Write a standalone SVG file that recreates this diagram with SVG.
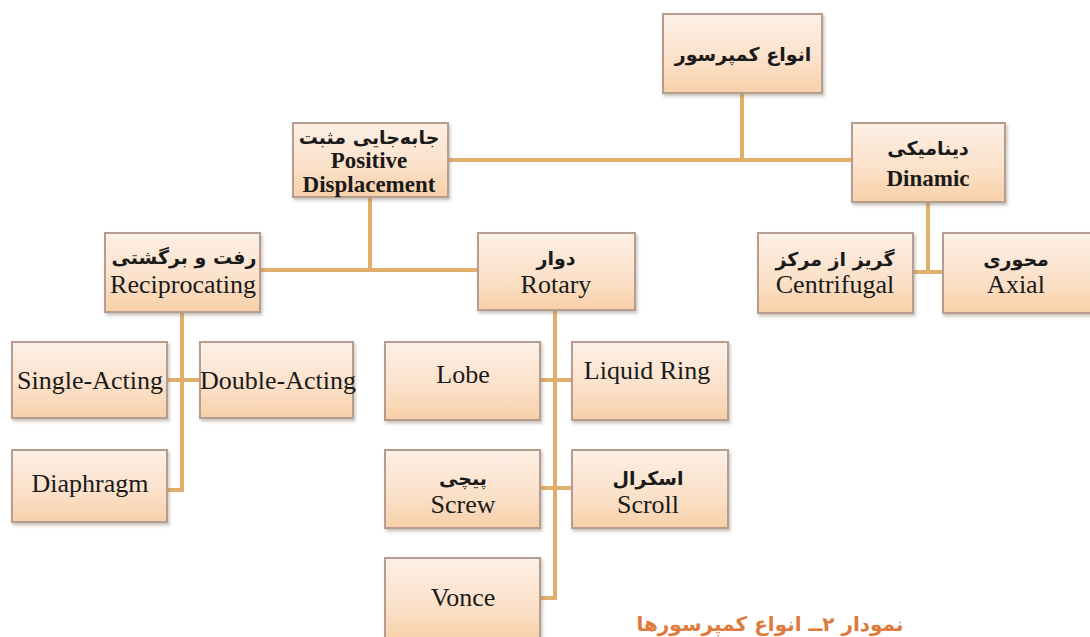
<svg xmlns="http://www.w3.org/2000/svg" width="1090" height="637" viewBox="0 0 1090 637">
<defs>
<linearGradient id="bg" x1="0" y1="0" x2="0" y2="1">
<stop offset="0" stop-color="#FDF0E6"/>
<stop offset="0.6" stop-color="#FBE0C8"/>
<stop offset="1" stop-color="#F8D0A8"/>
</linearGradient>
<filter id="sh" x="-10%" y="-10%" width="125%" height="130%">
<feDropShadow dx="1.5" dy="2.5" stdDeviation="1.5" flood-color="#8a7a70" flood-opacity="0.45"/>
</filter>
<style>
.box{fill:url(#bg);stroke:#B59E90;stroke-width:2;filter:url(#sh)}
.fa{font-family:"DejaVu Sans","Noto Sans",sans-serif;font-weight:bold;font-size:19px;fill:#1a1a1a;text-anchor:middle;direction:rtl}
.en{font-family:"Liberation Serif",serif;font-size:26px;fill:#1a1a1a;text-anchor:middle}
.enb{font-family:"Liberation Serif",serif;font-weight:bold;font-size:23px;fill:#1a1a1a;text-anchor:middle}
.ln{stroke:#E2AE6C;stroke-width:4;fill:none}
.cap{font-family:"DejaVu Sans","Noto Sans",sans-serif;font-weight:bold;font-size:20px;fill:#E07A3C;text-anchor:middle;direction:rtl}
</style>
</defs>
<rect width="1090" height="637" fill="#ffffff"/>
<g id="connectors">
<path class="ln" d="M742 93V160M448 160H852"/>
<path class="ln" d="M370 197V270M260 270H478"/>
<path class="ln" d="M928 202V272M913 272H943"/>
<path class="ln" d="M182 312V490H167M167 380H200"/>
<path class="ln" d="M555 310V598H540M540 380H572M540 488H572"/>
</g>
<g id="n-root"><rect class="box" x="663" y="14" width="159" height="79"/><text class="fa" x="743" y="61" font-size="21">انواع کمپرسور</text></g>
<g id="n-pd"><rect class="box" x="293" y="123" width="155" height="74"/><text class="fa" x="369" y="144">جابه&#x200C;جایی مثبت</text><text class="enb" x="369" y="168">Positive</text><text class="enb" x="369" y="192">Displacement</text></g>
<g id="n-dyn"><rect class="box" x="852" y="123" width="153" height="79"/><text class="fa" x="928" y="155">دینامیکی</text><text class="enb" x="928" y="186">Dinamic</text></g>
<g id="n-recip"><rect class="box" x="105" y="233" width="155" height="79"/><text class="fa" x="184" y="264">رفت و برگشتی</text><text class="en" x="183" y="293">Reciprocating</text></g>
<g id="n-rot"><rect class="box" x="478" y="233" width="157" height="77"/><text class="fa" x="556" y="265">دوار</text><text class="en" x="556" y="293">Rotary</text></g>
<g id="n-cent"><rect class="box" x="758" y="233" width="155" height="80"/><text class="fa" x="835" y="266">گریز از مرکز</text><text class="en" x="835" y="293">Centrifugal</text></g>
<g id="n-axial"><rect class="box" x="943" y="233" width="150" height="80"/><text class="fa" x="1016" y="266">محوری</text><text class="en" x="1016" y="293">Axial</text></g>
<g id="n-single"><rect class="box" x="12" y="342" width="155" height="76"/><text class="en" x="90" y="389">Single-Acting</text></g>
<g id="n-double"><rect class="box" x="200" y="342" width="153" height="76"/><text class="en" x="278" y="389">Double-Acting</text></g>
<g id="n-diaph"><rect class="box" x="12" y="450" width="155" height="72"/><text class="en" x="90" y="492">Diaphragm</text></g>
<g id="n-lobe"><rect class="box" x="385" y="342" width="155" height="78"/><text class="en" x="463" y="383">Lobe</text></g>
<g id="n-liquid"><rect class="box" x="572" y="342" width="156" height="78"/><text class="en" x="647" y="379">Liquid Ring</text></g>
<g id="n-screw"><rect class="box" x="385" y="450" width="155" height="78"/><text class="fa" x="463" y="485">پیچی</text><text class="en" x="463" y="513">Screw</text></g>
<g id="n-scroll"><rect class="box" x="572" y="450" width="156" height="78"/><text class="fa" x="648" y="485">اسکرال</text><text class="en" x="648" y="513">Scroll</text></g>
<g id="n-vonce"><rect class="box" x="385" y="558" width="155" height="84"/><text class="en" x="463" y="606">Vonce</text></g>
<text class="cap" x="770" y="631">نمودار ۲ــ انواع کمپرسورها</text>
</svg>
